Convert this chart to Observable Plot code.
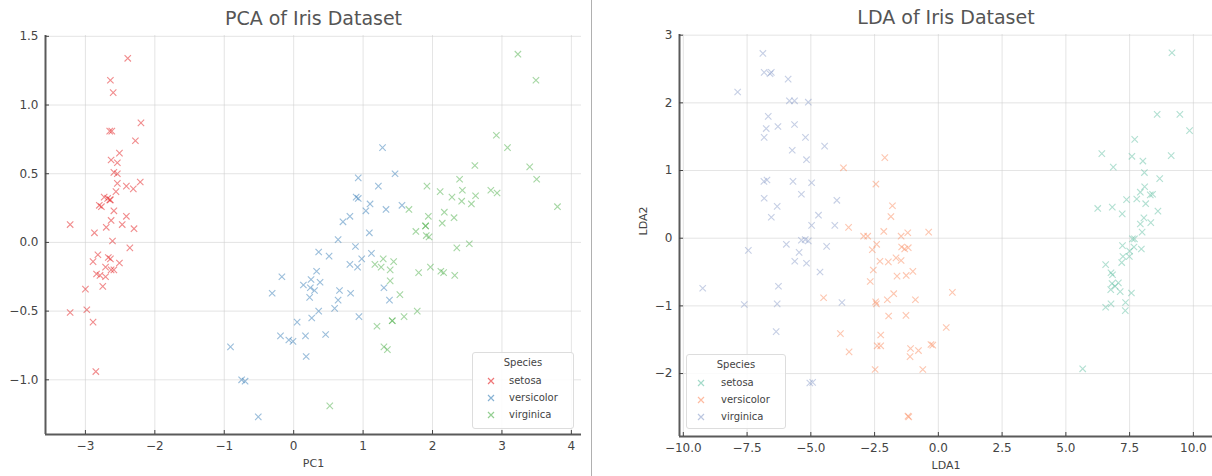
<!DOCTYPE html>
<html><head><meta charset="utf-8">
<script src="https://cdn.jsdelivr.net/npm/d3@7"></script>
<script src="https://cdn.jsdelivr.net/npm/@observablehq/plot@0.6"></script>
<style>
body{margin:0;background:#fff;font-family:"DejaVu Sans",sans-serif;}
#wrap{position:relative;width:1212px;height:476px;overflow:hidden;background:#fff;}
.panel{position:absolute;top:0;}
.divider{position:absolute;left:591px;top:0;width:1px;height:476px;background:#b0b0b0;}
.legend{position:absolute;border:1px solid #ddd;background:rgba(255,255,255,0.85);border-radius:3px;font-size:10px;color:#444;box-sizing:border-box;}
.legend .ttl{position:absolute;width:100%;text-align:center;}
.legend .item{position:absolute;white-space:nowrap;}
</style></head><body><div id="wrap"></div><script>
const species = ["setosa", "versicolor", "virginica"];
const pcaColors = ["#e41a1c", "#377eb8", "#4daf4a"];
const ldaColors = ["#66c2a5", "#fc8d62", "#8da0cb"];

const pcaXTicks = [-3, -2, -1, 0, 1, 2, 3, 4];
const pcaYTicks = [-1.0, -0.5, 0.0, 0.5, 1.0, 1.5];
const ldaXTicks = [-10, -7.5, -5, -2.5, 0, 2.5, 5, 7.5, 10];
const ldaYTicks = [-2, -1, 0, 1, 2, 3];
const pcaXDomain = [-3.575, 4.146];
const pcaYDomain = [-1.398, 1.506];
const ldaXDomain = [-10.15, 10.75];
const ldaYDomain = [-2.93, 3.01];

const pcaSetosa = [[-2.68,0.32],[-2.71,-0.18],[-2.89,-0.14],[-2.75,-0.32],[-2.73,0.33],[-2.28,0.74],[-2.82,-0.09],[-2.63,0.16],[-2.89,-0.58],[-2.67,-0.11],[-2.51,0.65],[-2.61,0.01],[-2.79,-0.24],[-3.22,-0.51],[-2.64,1.18],[-2.39,1.34],[-2.62,0.81],[-2.65,0.31],[-2.20,0.87],[-2.59,0.51],[-2.31,0.39],[-2.54,0.43],[-3.22,0.13],[-2.30,0.10],[-2.36,-0.04],[-2.51,-0.15],[-2.47,0.13],[-2.56,0.37],[-2.64,0.31],[-2.63,-0.20],[-2.59,-0.20],[-2.41,0.41],[-2.65,0.81],[-2.60,1.09],[-2.64,-0.12],[-2.87,0.07],[-2.63,0.60],[-2.80,0.27],[-2.98,-0.49],[-2.59,0.23],[-2.77,0.26],[-2.85,-0.94],[-3.00,-0.34],[-2.41,0.19],[-2.21,0.44],[-2.71,-0.25],[-2.54,0.50],[-2.84,-0.23],[-2.54,0.58],[-2.70,0.11]];
const pcaVersicolor = [[1.28,0.69],[0.93,0.32],[1.46,0.50],[0.18,-0.83],[1.09,0.07],[0.64,-0.42],[1.10,0.28],[-0.75,-1.00],[1.04,0.23],[-0.01,-0.72],[-0.51,-1.27],[0.51,-0.10],[0.26,-0.55],[0.98,-0.12],[-0.17,-0.25],[0.93,0.47],[0.66,-0.35],[0.24,-0.33],[0.94,-0.54],[0.05,-0.58],[1.12,-0.08],[0.36,-0.07],[1.30,-0.33],[0.92,-0.18],[0.71,0.15],[0.90,0.33],[1.33,0.24],[1.56,0.27],[0.81,-0.16],[-0.31,-0.37],[-0.07,-0.71],[-0.19,-0.68],[0.14,-0.31],[1.38,-0.42],[0.59,-0.48],[0.81,0.19],[1.22,0.41],[0.82,-0.37],[0.25,-0.27],[0.17,-0.68],[0.46,-0.67],[0.89,-0.03],[0.23,-0.40],[-0.70,-1.01],[0.36,-0.50],[0.33,-0.21],[0.38,-0.29],[0.64,0.02],[-0.91,-0.76],[0.30,-0.35]];
const pcaVirginica = [[2.53,-0.01],[1.42,-0.57],[2.62,0.34],[1.97,-0.18],[2.35,-0.04],[3.40,0.55],[0.52,-1.19],[2.93,0.36],[2.32,-0.24],[2.92,0.78],[1.66,0.24],[1.80,-0.22],[2.17,0.22],[1.35,-0.78],[1.59,-0.54],[1.90,0.12],[1.95,0.04],[3.49,1.18],[3.80,0.26],[1.30,-0.76],[2.43,0.38],[1.20,-0.61],[3.50,0.46],[1.39,-0.20],[2.28,0.33],[2.61,0.56],[1.26,-0.18],[1.29,-0.12],[2.12,-0.21],[2.39,0.46],[2.84,0.38],[3.23,1.37],[2.16,-0.22],[1.44,-0.14],[1.78,-0.50],[3.08,0.69],[2.14,0.14],[1.91,0.05],[1.17,-0.16],[2.11,0.37],[2.31,0.18],[1.92,0.41],[1.42,-0.57],[2.56,0.28],[2.42,0.30],[1.94,0.19],[1.53,-0.38],[1.76,0.08],[1.90,0.12],[1.39,-0.28]];

const ldaSetosa = [[8.06,0.30],[7.13,-0.79],[7.49,-0.27],[6.81,-0.67],[8.13,0.51],[7.70,1.46],[7.21,0.36],[7.61,-0.01],[6.56,-1.02],[7.34,-0.95],[8.40,0.65],[7.22,-0.11],[7.33,-1.07],[7.57,-0.81],[9.85,1.59],[9.16,2.74],[8.58,1.83],[7.78,0.58],[8.08,0.97],[8.02,1.14],[7.50,-0.19],[7.59,1.21],[8.68,0.88],[6.25,0.44],[6.56,-0.39],[6.77,-0.97],[6.82,0.46],[7.92,0.21],[7.99,0.09],[6.83,-0.54],[6.76,-0.76],[7.38,0.57],[9.13,1.22],[9.47,1.83],[7.06,-0.66],[7.96,-0.16],[8.61,0.40],[8.33,0.23],[6.93,-0.71],[7.69,-0.01],[7.92,0.68],[5.66,-1.93],[7.24,-0.27],[6.41,1.25],[6.86,1.05],[6.77,-0.51],[8.09,0.76],[7.19,-0.36],[8.31,0.64],[7.67,-0.13]];
const ldaVersicolor = [[-1.46,0.03],[-1.80,0.48],[-2.42,-0.09],[-2.26,-1.59],[-2.55,-0.47],[-2.43,-0.97],[-2.45,0.80],[-0.22,-1.58],[-1.75,-0.82],[-1.96,-0.35],[-1.19,-2.63],[-1.86,0.32],[-1.16,-2.64],[-2.67,-0.64],[-0.38,0.09],[-1.20,0.08],[-2.77,0.03],[-0.78,-1.66],[-3.50,-1.68],[-1.09,-1.63],[-3.72,1.04],[-1.00,-0.49],[-3.84,-1.41],[-2.26,-1.43],[-1.26,-0.55],[-1.44,-0.13],[-2.46,-0.94],[-3.52,0.16],[-2.59,-0.17],[0.31,-1.32],[-1.11,-1.75],[-0.61,-1.94],[-0.90,-0.91],[-4.50,-0.88],[-2.93,0.03],[-2.10,1.19],[-2.14,0.10],[-2.48,-1.94],[-1.32,-0.16],[-1.95,-1.15],[-2.40,-1.59],[-2.29,-0.34],[-1.27,-1.14],[-0.29,-1.57],[-2.00,-0.91],[-1.18,-0.14],[-1.62,-0.56],[-1.66,-0.29],[0.55,-0.80],[-1.46,-0.33]];
const ldaVirginica = [[-6.88,2.73],[-6.83,2.45],[-6.55,2.45],[-5.89,2.35],[-7.87,2.16],[-5.84,2.03],[-5.64,2.03],[-5.10,2.01],[-6.67,1.80],[-6.29,1.65],[-6.75,1.62],[-5.64,1.68],[-6.83,1.49],[-5.21,1.49],[-4.46,1.36],[-5.73,1.30],[-5.17,1.16],[-6.84,0.84],[-6.72,0.86],[-5.70,0.84],[-4.97,0.82],[-5.37,0.65],[-3.98,0.56],[-6.83,0.59],[-6.32,0.47],[-4.70,0.34],[-6.55,0.31],[-4.97,0.19],[-4.06,0.19],[-5.37,-0.03],[-5.10,-0.04],[-5.22,-0.02],[-5.96,-0.09],[-7.45,-0.18],[-4.38,-0.12],[-5.46,-0.21],[-5.63,-0.34],[-5.17,-0.37],[-4.64,-0.50],[-9.24,-0.74],[-6.27,-0.71],[-3.78,-0.95],[-7.61,-0.98],[-6.32,-0.97],[-6.36,-1.38],[-5.04,-2.14],[-6.60,2.43],[-4.93,-2.13]];

function rows(groups) {
  const out = [];
  groups.forEach((g, i) => g.forEach(([a, b]) => out.push({x: a, y: b, species: species[i]})));
  return out;
}

function panel(o) {
  const [mt, mr, mb, ml] = o.margins;
  const marks = [
    Plot.gridX(o.xTicks, {stroke: "#cfcfcf", strokeOpacity: 0.7, strokeWidth: 0.8}),
    Plot.gridY(o.yTicks, {stroke: "#cfcfcf", strokeOpacity: 0.7, strokeWidth: 0.8}),
    Plot.ruleX([o.xDomain[0]], {stroke: "#5a5a5a", strokeWidth: 2}),
    Plot.ruleY([o.yDomain[0]], {stroke: "#5a5a5a", strokeWidth: 2}),
    Plot.axisX(o.xTicks, {tickSize: -4, tickPadding: 11, tickFormat: o.xFmt, label: null, color: "#444", fontSize: 12}),
    Plot.axisY(o.yTicks, {tickSize: -4, tickPadding: 11, tickFormat: o.yFmt, label: null, color: "#444", fontSize: 12}),
    Plot.dot(o.data, {x: "x", y: "y", stroke: "species", symbol: "times", r: 3, strokeWidth: 1.1, strokeOpacity: 0.5}),
    Plot.text([o.title], {frameAnchor: "top", lineAnchor: "middle", dy: -17, fontSize: 19, fill: "#555"}),
    Plot.text([o.xLabel], {frameAnchor: "bottom", dy: 32, fontSize: 11, fill: "#444"})
  ];
  if (o.yLabel) marks.push(Plot.text([o.yLabel], {frameAnchor: "left", dx: -36, rotate: -90, fontSize: 11, fill: "#444"}));
  return Plot.plot({
    width: o.width, height: 476,
    marginTop: mt, marginRight: mr, marginBottom: mb, marginLeft: ml,
    style: {fontFamily: "DejaVu Sans", fontSize: "11px", background: "transparent", overflow: "visible"},
    x: {domain: o.xDomain},
    y: {domain: o.yDomain},
    color: {domain: species, range: o.colors},
    marks
  });
}

const wrap = document.getElementById("wrap");

const left = panel({
  width: 591, margins: [35, 10, 42, 45],
  xDomain: pcaXDomain, yDomain: pcaYDomain, xTicks: pcaXTicks, yTicks: pcaYTicks,
  xFmt: d3.format("d"), yFmt: d3.format(".1f"),
  data: rows([pcaSetosa, pcaVersicolor, pcaVirginica]), colors: pcaColors,
  title: "PCA of Iris Dataset", xLabel: "PC1"
});
left.classList.add("panel"); left.style.left = "0px";
wrap.appendChild(left);

const right = panel({
  width: 620, margins: [34, 0, 40, 87],
  xDomain: ldaXDomain, yDomain: ldaYDomain, xTicks: ldaXTicks, yTicks: ldaYTicks,
  xFmt: d3.format(".1f"), yFmt: d3.format("d"),
  data: rows([ldaSetosa, ldaVersicolor, ldaVirginica]), colors: ldaColors,
  title: "LDA of Iris Dataset", xLabel: "LDA1", yLabel: "LDA2"
});
right.classList.add("panel"); right.style.left = "592px";
wrap.appendChild(right);

const div = document.createElement("div"); div.className = "divider"; wrap.appendChild(div);

function legend(box, colors) {
  const el = document.createElement("div");
  el.className = "legend";
  Object.assign(el.style, {left: box.left + "px", top: box.top + "px", width: box.w + "px", height: box.h + "px"});
  const t = document.createElement("div"); t.className = "ttl"; t.textContent = "Species";
  t.style.top = "4px"; el.appendChild(t);
  species.forEach((s, i) => {
    const it = document.createElement("div"); it.className = "item";
    it.style.top = (box.first + i * box.step) + "px"; it.style.left = box.mx + "px";
    it.innerHTML = `<svg width="8" height="8" style="vertical-align:-1px;margin-right:${box.gap}px"><path d="M1,1L7,7M7,1L1,7" stroke="${colors[i]}" stroke-opacity="0.6" stroke-width="1.2"/></svg>${s}`;
    el.appendChild(it);
  });
  wrap.appendChild(el);
}
legend({left: 472, top: 352, w: 102, h: 77, first: 22, step: 17, mx: 14, gap: 14}, pcaColors);
legend({left: 686, top: 354, w: 100, h: 75, first: 22, step: 17, mx: 10, gap: 16}, ldaColors);
</script></body></html>
